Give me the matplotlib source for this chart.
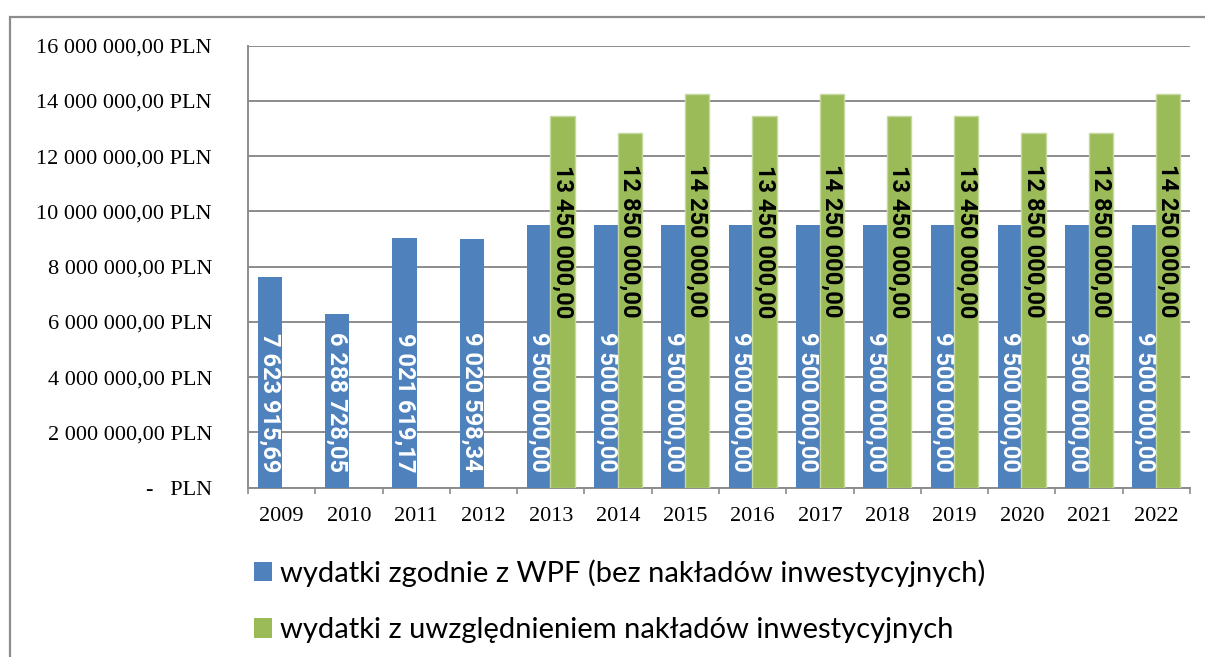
import matplotlib
matplotlib.use("Agg")
import matplotlib.pyplot as plt
from matplotlib.patches import Rectangle, Patch
from matplotlib.ticker import FixedLocator
import numpy as np

years = ["2009", "2010", "2011", "2012", "2013", "2014", "2015", "2016",
         "2017", "2018", "2019", "2020", "2021", "2022"]
wpf = [7623915.69, 6288728.05, 9021619.17, 9020598.34, 9500000, 9500000, 9500000,
       9500000, 9500000, 9500000, 9500000, 9500000, 9500000, 9500000]
inv_years = ["2013", "2014", "2015", "2016", "2017", "2018", "2019", "2020", "2021", "2022"]
inv = [13450000, 12850000, 14250000, 13450000, 14250000, 13450000, 13450000,
       12850000, 12850000, 14250000]
yticks = [0, 2e6, 4e6, 6e6, 8e6, 10e6, 12e6, 14e6, 16e6]
ytick_labels = ["-   PLN", "2 000 000,00 PLN", "4 000 000,00 PLN", "6 000 000,00 PLN",
                "8 000 000,00 PLN", "10 000 000,00 PLN", "12 000 000,00 PLN",
                "14 000 000,00 PLN", "16 000 000,00 PLN"]
legend_labels = ["wydatki zgodnie z WPF (bez nakładów inwestycyjnych)",
                 "wydatki z uwzględnieniem nakładów inwestycyjnych"]

BLUE = "#4F81BD"
GREEN = "#9BBB59"
GRID = "#8C8C8C"


def fmt(v):
    s = f"{v:,.2f}"
    return s.replace(",", " ").replace(".", ",")


W, H = 1205, 657
fig = plt.figure(figsize=(W / 100, H / 100), dpi=100)
ax = fig.add_axes([248 / W, 1 - 487.7 / H, (1190 - 248) / W, (487.7 - 45.7) / H])

# outer chart border
fig.patches.append(Rectangle((10 / W, -0.1), 1.2, 1 - 17 / H + 0.1, transform=fig.transFigure,
                             fill=False, edgecolor=GRID, linewidth=1.6, zorder=0))

x = np.arange(len(years))
bw = 0.36
off = 0.175
xi = np.array([years.index(y) for y in inv_years])

b1 = ax.bar(x - off, wpf, width=bw, color=BLUE, edgecolor="none", zorder=3)
b2 = ax.bar(xi + off, inv, width=bw, color=GREEN, edgecolor="#C5D99E", linewidth=1.0, zorder=3)

label_font = ["Roboto", "DejaVu Sans"]
for xx, v in zip(x - off, wpf):
    ax.annotate(fmt(v), xy=(xx, 0), xytext=(0, 11.3), textcoords="offset points",
                ha="center", va="bottom", rotation=270, color="white",
                fontsize=17, fontweight="bold", family=label_font, zorder=5)
for xx, v in zip(xi + off, inv):
    ax.annotate(fmt(v), xy=(xx, 0.384), xycoords=("data", "axes fraction"),
                ha="center", va="bottom", rotation=270, color="black",
                fontsize=17, fontweight="bold", family=label_font, zorder=5)

ax.set_xlim(-0.5, len(years) - 0.5)
ax.set_ylim(0, 16e6)
ax.set_yticks(yticks)
ax.set_yticklabels(ytick_labels, family="Liberation Serif", fontsize=16)
ax.set_xticks(x)
ax.set_xticklabels(years, family="Liberation Serif", fontsize=16)
ax.xaxis.set_minor_locator(FixedLocator(np.arange(-0.5, len(years), 1.0)))
ax.tick_params(axis="x", which="major", length=0, pad=14)
ax.tick_params(axis="x", which="minor", length=4, width=1.2, color=GRID, direction="out")
ax.tick_params(axis="y", length=0, pad=26)

ax.grid(axis="y", color=GRID, linewidth=1.4, zorder=0)
ax.set_axisbelow(True)
for s in ["top", "right"]:
    ax.spines[s].set_visible(False)
for s in ["left", "bottom"]:
    ax.spines[s].set_color(GRID)
    ax.spines[s].set_linewidth(1.4)

handles = [Patch(facecolor=BLUE, edgecolor="none"), Patch(facecolor=GREEN, edgecolor="none")]
fig.legend(handles, legend_labels, loc="upper left", bbox_to_anchor=(254 / W, 1 - 559 / H),
           frameon=False, borderpad=0, borderaxespad=0, handlelength=0.62, handleheight=0.65,
           handletextpad=0.27, labelspacing=1.05, prop={"family": "Lato", "size": 21})

fig.savefig("out.png", dpi=100)
